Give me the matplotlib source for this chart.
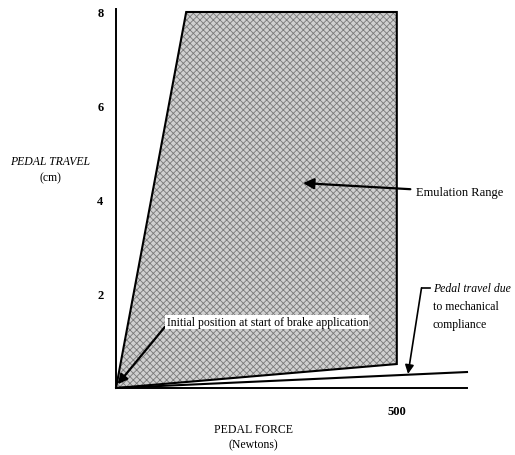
import matplotlib
matplotlib.use('Agg')
import matplotlib.pyplot as plt
from matplotlib.patches import Polygon

plt.rcParams['font.family'] = ['Liberation Serif', 'DejaVu Serif']
plt.rcParams['hatch.linewidth'] = 0.6

# emulation range corners (force N, travel cm)
range_force = [0, 125, 500, 500]
range_travel = [0, 8, 8, 0.51]
# travel due to mechanical compliance
comp_force = [0, 625]
comp_travel = [0, 0.34]

y_ticks = [2, 4, 6, 8]
x_ticks = [500]

fig = plt.figure(figsize=(5.15, 4.56), dpi=100)
# origin sits at pixel (116, 389)
ax = fig.add_axes([116/515, (456-389)/456, 351/515, 8.06*47/456])
ax.set_xlim(0, 625)
ax.set_ylim(0, 8.06)

for s in ['top', 'right']:
    ax.spines[s].set_visible(False)
for s in ['left', 'bottom']:
    ax.spines[s].set_linewidth(1.4)

ax.set_yticks(y_ticks)
ax.set_xticks(x_ticks)
ax.tick_params(length=0, labelsize=9)
ax.tick_params(axis='y', pad=9)
ax.tick_params(axis='x', pad=12)
for lab in ax.get_yticklabels() + ax.get_xticklabels():
    lab.set_fontweight('bold')

# shaded region
pts = list(zip(range_force, range_travel))
ax.add_patch(Polygon(pts, closed=True, facecolor='#d0d0d0', edgecolor='#7a7a7a',
                     hatch='xxxxx', linewidth=0))
ax.add_patch(Polygon(pts, closed=True, fill=False, edgecolor='black', linewidth=1.5))

ax.plot(comp_force, comp_travel, color='black', lw=1.5, clip_on=False)

# annotations
ax.annotate('Emulation Range', xy=(333, 4.36), xytext=(534, 4.17),
            fontsize=9, va='center', ha='left',
            arrowprops=dict(arrowstyle='-|>', color='black', lw=1.6, mutation_scale=16,
                            shrinkA=2, shrinkB=0))

ax.annotate('', xy=(3, 0.08), xytext=(87, 1.3),
            arrowprops=dict(arrowstyle='-|>', color='black', lw=1.6, mutation_scale=14,
                            shrinkA=0, shrinkB=0))
ax.text(90, 1.4, 'Initial position at start of brake application', fontsize=8.5,
        va='center', ha='left',
        bbox=dict(facecolor='white', edgecolor='none', pad=0.8))

ax.plot([559, 544], [2.13, 2.13], color='black', lw=1.2, clip_on=False)
ax.annotate('', xy=(520, 0.3), xytext=(544, 2.13),
            arrowprops=dict(arrowstyle='-|>', color='black', lw=1.2, mutation_scale=13,
                            shrinkA=0, shrinkB=0), annotation_clip=False)
ax.text(564, 2.13, 'Pedal travel due', fontsize=8.5, style='italic', va='center', ha='left')
ax.text(564, 1.75, 'to mechanical', fontsize=8.5, va='center', ha='left')
ax.text(564, 1.37, 'compliance', fontsize=8.5, va='center', ha='left')

# axis titles
ax.text(-117, 4.83, 'PEDAL TRAVEL', style='italic', fontsize=8.5, ha='center', va='center',
        clip_on=False)
ax.text(-117, 4.49, '(cm)', fontsize=8.5, ha='center', va='center', clip_on=False)
ax.text(244, -0.87, 'PEDAL FORCE', fontsize=8.5, ha='center', va='center', clip_on=False)
ax.text(244, -1.19, '(Newtons)', fontsize=8.5, ha='center', va='center', clip_on=False)

fig.savefig('out.png', dpi=100)
